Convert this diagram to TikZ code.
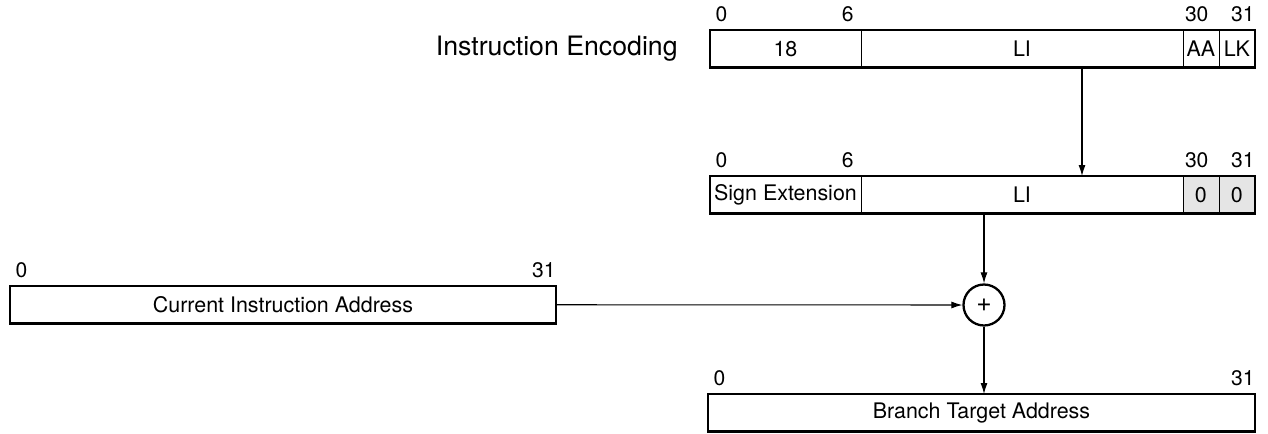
\documentclass[tikz,border=0pt]{standalone}
\usepackage{fontspec}
\setmainfont{TeX Gyre Heros}
\usetikzlibrary{arrows.meta}
\usetikzlibrary{positioning}
\usetikzlibrary{calc}

\tikzset{
  field/.style={draw, line width=0.4pt, rectangle, inner sep=0pt, outer sep=0pt,
    minimum height=0.75cm, font=\fontsize{12.2}{14}\selectfont},
  zerofield/.style={field, fill=black!10},
  frame/.style={line width=1.3pt},
  bitno/.style={inner sep=0pt, font=\fontsize{12}{14}\selectfont},
  arr/.style={line width=0.6pt, -{Latex[length=2.2mm,width=1.4mm]}},
  adder/.style={draw, circle, line width=1.3pt, minimum size=0.82cm, inner sep=0pt,
    font=\fontsize{15}{16}\selectfont}
}

\begin{document}
\begin{tikzpicture}[x=0.02cm,y=-0.02cm]
\useasboundingbox (0,0) rectangle (1268,433);

% instruction encoding
\node[field, anchor=north west, minimum width=3.02cm] (enc-op) at (710,30) {18};
\node[field, right=0pt of enc-op, minimum width=6.44cm] (enc-li) {LI};
\node[field, right=0pt of enc-li, minimum width=0.72cm] (enc-aa) {AA};
\node[field, right=0pt of enc-aa, minimum width=0.72cm] (enc-lk) {LK};
\draw[frame] (enc-op.north west) rectangle (enc-lk.south east);
\node[anchor=east, inner sep=0pt, font=\fontsize{15.2}{18}\selectfont] (title) at ([xshift=-0.64cm]enc-op.west) {Instruction Encoding};

\node[bitno, anchor=south west] (enc-b0) at ([xshift=3pt,yshift=0.16cm]enc-op.north west) {0};
\node[bitno, anchor=south east] (enc-b6) at ([xshift=-4pt,yshift=0.16cm]enc-op.north east) {6};
\node[bitno, anchor=south west] (enc-b30) at ([xshift=1pt,yshift=0.16cm]enc-aa.north west) {30};
\node[bitno, anchor=south east] (enc-b31) at ([xshift=0pt,yshift=0.16cm]enc-lk.north east) {31};

% sign extended value
\node[field, anchor=north west, minimum width=3.02cm] (ext-se) at (710,176) {Sign Extension};
\node[field, right=0pt of ext-se, minimum width=6.44cm] (ext-li) {LI};
\node[zerofield, right=0pt of ext-li, minimum width=0.72cm] (ext-z1) {0};
\node[zerofield, right=0pt of ext-z1, minimum width=0.72cm] (ext-z2) {0};
\draw[frame] (ext-se.north west) rectangle (ext-z2.south east);

\node[bitno, anchor=south west] (ext-b0) at ([xshift=3pt,yshift=0.16cm]ext-se.north west) {0};
\node[bitno, anchor=south east] (ext-b6) at ([xshift=-4pt,yshift=0.16cm]ext-se.north east) {6};
\node[bitno, anchor=south west] (ext-b30) at ([xshift=1pt,yshift=0.16cm]ext-z1.north west) {30};
\node[bitno, anchor=south east] (ext-b31) at ([xshift=0pt,yshift=0.16cm]ext-z2.north east) {31};

% current instruction address
\node[field, frame, anchor=north west, minimum width=10.92cm] (cia) at (10,286) {Current Instruction Address};
\node[bitno, anchor=south west] (cia-b0) at ([xshift=3pt,yshift=0.16cm]cia.north west) {0};
\node[bitno, anchor=south east] (cia-b31) at ([xshift=0pt,yshift=0.16cm]cia.north east) {31};

% adder
\node[adder] (sum) at (984,305) {+};

% branch target address
\node[field, frame, anchor=north west, minimum width=10.94cm] (bta) at (708,394) {Branch Target Address};
\node[bitno, anchor=south west] (bta-b0) at ([xshift=3pt,yshift=0.16cm]bta.north west) {0};
\node[bitno, anchor=south east] (bta-b31) at ([xshift=0pt,yshift=0.16cm]bta.north east) {31};

% arrows
\coordinate (tap) at (1082,100);
\draw[arr] (enc-li.south -| tap) -- (ext-li.north -| tap);
\draw[arr] (ext-li.south -| sum.north) -- (sum.north);
\draw[arr] (cia.east) -- (sum.west);
\draw[arr] (sum.south) -- (bta.north -| sum.south);

\end{tikzpicture}
\end{document}
